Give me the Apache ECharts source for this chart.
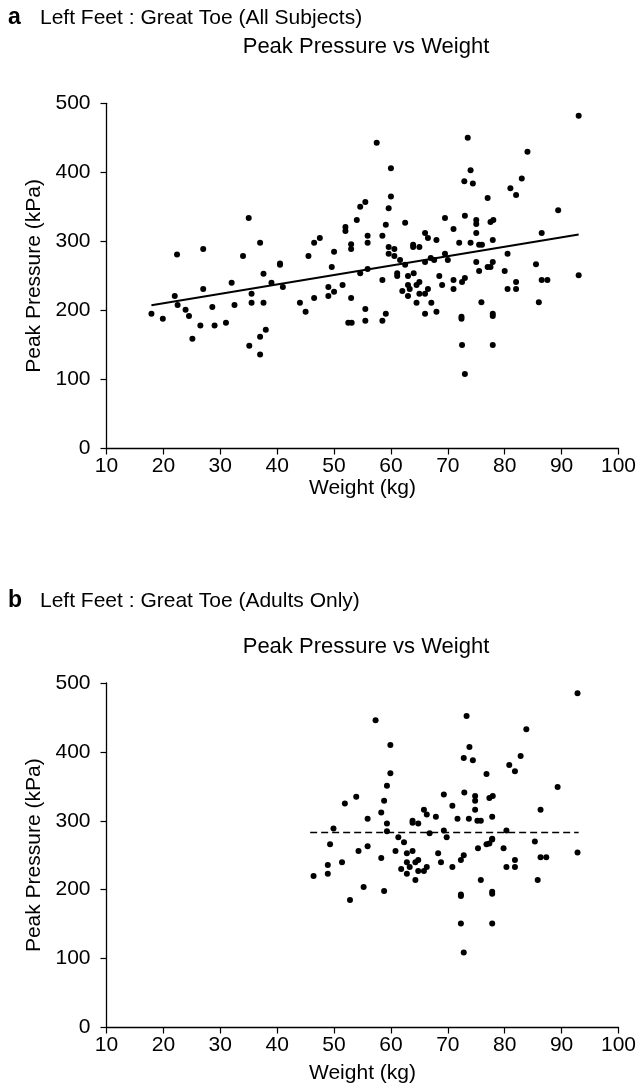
<!DOCTYPE html>
<html><head><meta charset="utf-8">
<script src="https://cdn.jsdelivr.net/npm/echarts@6/dist/echarts.min.js"></script>
<style>html,body{margin:0;padding:0;background:#fff}#c{width:639px;height:1090px}</style>
</head><body><div id="c"></div>
<script>
// Panel a: all subjects [weight kg, peak pressure kPa]
const allSubjects = [
[22.4,281],[27.0,289],[34.0,279],[35.0,334],[37.0,298],[40.5,268],[40.5,266],[45.5,279],[46.5,298],[47.5,305],[49.6,263],[50.0,285],[52.0,321],[52.0,315],[53.0,296],[53.0,289],[54.0,331],[54.6,350],[55.5,357],[55.9,308],[55.9,298],
[57.5,443],[60.0,406],[60.0,365],[59.6,348],[59.1,324],[58.5,308],[59.6,292],[60.6,289],[59.6,282],[60.6,279],[61.6,273],[62.5,327],[62.5,266],[63.9,295],[63.9,292],[65.0,292],[66.0,312],[66.5,305],[66.0,270],[67.0,276],[67.6,273],[68.0,302],[69.5,334],[69.5,282],[70.0,273],[71.0,318],[72.0,298],[72.9,387],[73.5,450],[74.0,403],[74.4,384],[73.0,337],[74.0,298],[75.0,331],[75.0,325],[75.0,312],[75.5,295],[76.0,295],[75.0,270],[77.0,363],[77.5,328],[78.0,331],[77.9,302],[77.9,270],[77.5,263],[77.0,263],[80.5,282],[81.0,377],[82.0,367],[83.0,391],[84.0,430],[85.5,267],[86.5,312],[89.4,345],[93.0,482],
[17.9,195],[19.9,188],[22.0,221],[22.5,208],[23.9,201],[24.5,192],[25.1,159],[26.5,178],[27.0,231],[28.6,205],[29.0,178],[31.0,182],[32.0,240],[32.5,208],[35.1,149],[35.5,224],[35.5,211],[37.0,162],[37.0,136],[37.6,253],[37.6,211],[38.0,172],[39.0,240],[41.0,234],[44.0,211],[45.0,198],[46.5,218],[49.0,234],[49.0,221],[50.0,227],[51.5,237],[52.5,182],[53.1,182],[53.0,218],[54.6,254],[55.5,202],[55.5,185],[55.9,260],
[58.5,244],[58.5,185],[59.1,195],[61.1,254],[61.1,250],[62.0,228],[63.0,250],[63.0,237],[63.3,231],[63.0,221],[64.0,254],[64.5,237],[65.0,241],[65.0,224],[64.5,211],[66.0,224],[66.5,231],[66.0,195],[67.1,211],[68.0,198],[68.5,250],[69.0,237],[71.0,244],[71.0,231],[72.5,241],[73.0,247],[72.4,191],[72.4,188],[72.5,150],[73.0,108],[75.5,257],[75.9,212],[77.9,195],[77.9,192],[77.9,150],[80.0,257],[80.5,231],[82.0,241],[82.0,231],[86.0,212],[86.5,244],[87.5,244],[93.0,251]
];
// Regression line (panel a)
const fitLineA = [[17.9,207.5],[93.0,310]];

// Panel b: adults only [weight kg, peak pressure kPa]
const adultsOnly = [
[57.3,446],[59.9,410],[59.9,369],[59.3,351],[58.8,329],[58.3,312],[53.9,335],[51.9,325],[55.9,303],[49.9,289],[59.3,296],[59.3,285],[61.3,276],[63.8,300],[63.8,297],[64.8,296],[65.8,316],[66.3,309],[67.9,306],[69.3,338],[70.8,322],[71.7,303],[66.8,282],[69.3,286],[69.8,276],
[73.3,452],[73.8,407],[72.8,391],[74.4,388],[76.8,368],[83.8,433],[82.8,394],[80.8,381],[81.8,372],[92.8,485],[89.3,349],[86.3,316],[72.9,341],[74.8,336],[74.8,329],[77.3,333],[77.9,336],[74.8,316],[73.7,303],[75.2,300],[75.8,300],[77.8,306],[80.3,286],[77.8,274],
[49.3,266],[54.3,256],[55.9,263],[48.9,236],[48.9,223],[46.4,220],[51.4,240],[58.3,246],[55.2,204],[58.8,198],[52.8,185],[62.3,269],[60.8,256],[62.8,253],[63.8,256],[62.8,240],[63.3,233],[64.3,240],[64.8,243],[61.8,230],[62.8,223],[64.8,227],[65.8,227],[66.3,233],[64.3,214],[68.3,253],[68.8,240],[70.8,233],
[72.3,243],[72.8,250],[75.3,260],[76.8,266],[77.3,267],[77.8,273],[79.8,260],[80.3,233],[81.8,243],[81.8,233],[85.3,270],[86.3,247],[87.3,247],[92.8,254],[75.8,214],[85.8,214],[72.3,193],[72.3,191],[77.8,197],[77.8,194],[72.3,151],[77.8,151],[72.8,109]
];
// Mean line (panel b)
const meanLineB = [[45.8,283],[93.0,283]];

const F = '"Liberation Sans", Arial, Helvetica, sans-serif';
const INK = '#000';
const FS = 21;

function xAx(gi, gap) {
  return {type:'value', gridIndex:gi, min:10, max:100, interval:10,
    name:'Weight (kg)', nameLocation:'middle', nameGap:gap,
    nameTextStyle:{fontFamily:F, fontSize:FS, color:INK},
    axisLine:{lineStyle:{color:INK, width:1.3}},
    axisTick:{length:6, lineStyle:{color:INK, width:1.2}},
    axisLabel:{margin:7, fontFamily:F, fontSize:FS, color:INK},
    splitLine:{show:false}};
}
function yAx(gi) {
  return {type:'value', gridIndex:gi, min:0, max:500, interval:100,
    name:'Peak Pressure (kPa)', nameLocation:'middle', nameGap:57,
    nameTextStyle:{fontFamily:F, fontSize:FS, color:INK},
    axisLine:{show:true, lineStyle:{color:INK, width:1.3}},
    axisTick:{show:true, length:6, lineStyle:{color:INK, width:1.2}},
    axisLabel:{margin:16, fontFamily:F, fontSize:FS, color:INK},
    splitLine:{show:false}};
}
function txt(x, y, s, opts) {
  return {type:'text', x:x, y:y, style:Object.assign({text:s, fill:INK, font:'21px '+F, textVerticalAlign:'middle'}, opts||{})};
}

const chart = echarts.init(document.getElementById('c'), null, {renderer:'canvas'});
chart.setOption({
  animation:false,
  backgroundColor:'#fff',
  grid:[
    {left:106.5, top:103.3, width:515, height:345.2},
    {left:106.5, top:683, width:515, height:344.5}
  ],
  xAxis:[xAx(0,29), xAx(1,35)],
  yAxis:[yAx(0), yAx(1)],
  graphic:[
    txt(8, 18, 'a', {font:'bold 23px '+F}),
    txt(40, 18, 'Left Feet : Great Toe (All Subjects)'),
    txt(366, 47, 'Peak Pressure vs Weight', {textAlign:'center', font:'22px '+F}),
    txt(8, 601, 'b', {font:'bold 23px '+F}),
    txt(40, 601, 'Left Feet : Great Toe (Adults Only)'),
    txt(366, 647, 'Peak Pressure vs Weight', {textAlign:'center', font:'22px '+F})
  ],
  series:[
    {type:'scatter', xAxisIndex:0, yAxisIndex:0, data:allSubjects, symbolSize:6, itemStyle:{color:INK, opacity:1}},
    {type:'line', xAxisIndex:0, yAxisIndex:0, data:fitLineA, showSymbol:false, lineStyle:{color:INK, width:2}},
    {type:'scatter', xAxisIndex:1, yAxisIndex:1, data:adultsOnly, symbolSize:6, itemStyle:{color:INK, opacity:1}},
    {type:'line', xAxisIndex:1, yAxisIndex:1, data:meanLineB, showSymbol:false, lineStyle:{color:INK, width:1.6, type:[7,4]}}
  ]
});
</script></body></html>
